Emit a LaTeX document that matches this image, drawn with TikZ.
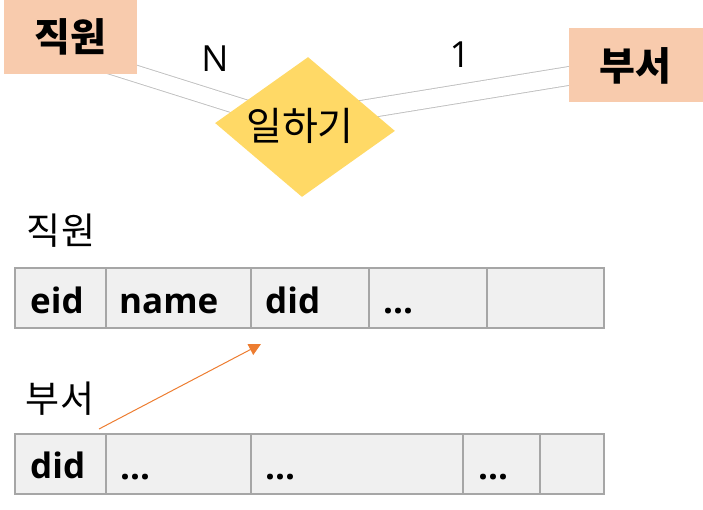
\documentclass[tikz,border=0pt]{standalone}
\usepackage{fontspec}
\setmainfont{Open Sans}
\newfontfamily\kr{Noto Sans CJK KR}
\usetikzlibrary{shapes.geometric,arrows.meta,backgrounds}
\definecolor{peach}{HTML}{F8CBAD}
\definecolor{gold}{HTML}{FFD966}
\definecolor{cellfill}{HTML}{F0F0F0}
\definecolor{cellline}{HTML}{A6A6A6}
\definecolor{relline}{HTML}{BFBFBF}
\definecolor{fkorange}{HTML}{ED7D31}
\begin{document}
\begin{tikzpicture}[x=1pt,y=-1pt,
  entity/.style={fill=peach, inner sep=0, outer sep=0, anchor=north west},
  relshape/.style={diamond, fill=gold, inner sep=0, minimum width=180pt, minimum height=140pt},
  twin/.style={draw=relline, line width=0.9pt, double=white},
  cell/.style={draw=cellline, fill=cellfill, line width=1.5pt, inner sep=0, outer sep=0, minimum height=60pt, anchor=north west},
  krb/.style={font=\kr\bfseries\fontsize{39}{44}\selectfont, inner sep=0, anchor=base},
  krl/.style={font=\kr\fontsize{37}{42}\selectfont, inner sep=0, anchor=base},
  krm/.style={font=\kr\fontsize{39}{44}\selectfont, inner sep=0, anchor=base},
  attr/.style={font=\bfseries\fontsize{35}{40}\selectfont, inner sep=0, anchor=base west},
  card/.style={font=\fontsize{36}{40}\selectfont, inner sep=0, anchor=base},
  fk/.style={draw=fkorange, line width=1pt, -{Triangle[length=12pt,width=12pt]}}
]
\useasboundingbox (0,0) rectangle (703,510);
% ER part
\node[entity, minimum width=133pt, minimum height=80pt] (emp) at (4,-6) {};
\node[entity, minimum width=134pt, minimum height=74pt] (dept) at (569,28) {};
\node[relshape, rotate=-2.5] (wk) at (305,127) {};
\coordinate (empj) at (70,53);
\coordinate (wkj) at (305,119);
\begin{scope}[on background layer]
  \draw[twin, double distance=16pt] (empj) -- (wk.center);
  \draw[twin, double distance=17.8pt] (wkj) -- (dept.center);
\end{scope}
\node[krb] (empt) at (70,52) {직원};
\node[krb] (deptt) at (635,81) {부서};
\node[krm] (wkt) at (300,141) {일하기};
\node[card] (cardn) at (215,72) {N};
\node[card] (cardone) at (460,68) {1};
% tables
\node[krl] (emplabel) at (61,245) {직원};
\node[krl] (deptlabel) at (60,412) {부서};
\node[cell, minimum width=91pt] (t1) at (15,268) {};
\node[cell, minimum width=145pt] (t2) at (106,268) {};
\node[cell, minimum width=118pt] (t3) at (251,268) {};
\node[cell, minimum width=118pt] (t4) at (369,268) {};
\node[cell, minimum width=117pt] (t5) at (487,268) {};
\node[cell, minimum width=91pt] (b1) at (15,434) {};
\node[cell, minimum width=145pt] (b2) at (106,434) {};
\node[cell, minimum width=212pt] (b3) at (251,434) {};
\node[cell, minimum width=77pt] (b4) at (463,434) {};
\node[cell, minimum width=64pt] (b5) at (540,434) {};
\node[attr] (te1) at (30,313) {eid};
\node[attr] (te2) at (119,313) {name};
\node[attr] (te3) at (265,313) {did};
\node[attr] (te4) at (383,313) {...};
\node[attr] (be1) at (30,478) {did};
\node[attr] (be2) at (120,479) {...};
\node[attr] (be3) at (265,479) {...};
\node[attr] (be4) at (478,479) {...};
\coordinate (fks) at (99,429);
\coordinate (fke) at (261,344);
\draw[fk] (fks) -- (fke);
\end{tikzpicture}
\end{document}
